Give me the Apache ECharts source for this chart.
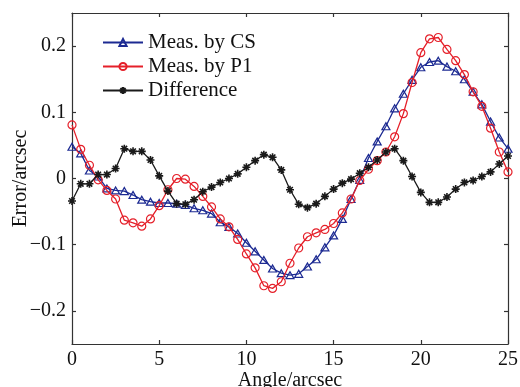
<!DOCTYPE html>
<html>
<head>
<meta charset="utf-8">
<script src="https://cdn.jsdelivr.net/npm/echarts@6/dist/echarts.min.js"></script>
<style>
  html, body { margin: 0; padding: 0; background: #fff; }
  #chart { width: 520px; height: 387px; }
</style>
</head>
<body>
<div id="chart"></div>
<script>
// Angle positions (arcsec)
const angles = [
  0, 0.5, 1, 1.5, 2, 2.5, 3, 3.5, 4, 4.5,
  5, 5.5, 6, 6.5, 7, 7.5, 8, 8.5, 9, 9.5,
  10, 10.5, 11, 11.5, 12, 12.5, 13, 13.5, 14, 14.5,
  15, 15.5, 16, 16.5, 17, 17.5, 18, 18.5, 19, 19.5,
  20, 20.5, 21, 21.5, 22, 22.5, 23, 23.5, 24, 24.5, 25
];

// Error measured by CS (arcsec)
const measCS = [
  0.048, 0.038, 0.012, 0.003, -0.015, -0.018, -0.019, -0.025, -0.032, -0.035,
  -0.037, -0.037, -0.038, -0.040, -0.045, -0.048, -0.053, -0.066, -0.073, -0.083,
  -0.097, -0.110, -0.123, -0.136, -0.143, -0.146, -0.144, -0.133, -0.122, -0.104,
  -0.086, -0.061, -0.031, -0.002, 0.031, 0.056, 0.079, 0.106, 0.128, 0.149,
  0.168, 0.176, 0.178, 0.169, 0.162, 0.150, 0.131, 0.112, 0.086, 0.062, 0.045
];

// Error measured by P1 (arcsec)
const measP1 = [
  0.081, 0.044, 0.020, -0.002, -0.018, -0.031, -0.063, -0.067, -0.072, -0.061,
  -0.041, -0.017, 0.000, -0.001, -0.012, -0.027, -0.043, -0.061, -0.073, -0.092,
  -0.114, -0.135, -0.162, -0.166, -0.156, -0.128, -0.105, -0.088, -0.082, -0.077,
  -0.068, -0.052, -0.031, -0.003, 0.014, 0.027, 0.040, 0.063, 0.098, 0.145,
  0.190, 0.211, 0.213, 0.195, 0.178, 0.157, 0.131, 0.109, 0.076, 0.040, 0.010
];

// Difference between the two measurements (arcsec)
const difference = [
  -0.034, -0.008, -0.008, 0.006, 0.006, 0.015, 0.045, 0.041, 0.041, 0.028,
  0.004, -0.019, -0.038, -0.039, -0.032, -0.020, -0.013, -0.006, 0.000, 0.007,
  0.017, 0.027, 0.036, 0.032, 0.013, -0.017, -0.039, -0.044, -0.038, -0.027,
  -0.016, -0.007, -0.001, 0.008, 0.017, 0.028, 0.040, 0.045, 0.027, 0.003,
  -0.021, -0.036, -0.036, -0.028, -0.016, -0.006, -0.003, 0.003, 0.010, 0.022, 0.034
];

const xTicks = [0, 5, 10, 15, 20, 25];
const yTicks = [-0.2, -0.1, 0, 0.1, 0.2];

const seriesNames = ['Meas. by CS', 'Meas. by P1', 'Difference'];

const FONT = '"Liberation Serif", "Times New Roman", serif';
const AXIS_COLOR = '#333';
const BLUE = '#1c2a92';
const RED = '#e5202a';
const BLACK = '#1a1a1a';

// eight-armed asterisk marker, drawn as strokes
const asterisk = 'path://M0,-10L0,10M-10,0L10,0M-7,-7L7,7M-7,7L7,-7';

function pairs(ys) {
  return angles.map((a, i) => [a, ys[i]]);
}

function yLabel(v) {
  if (Math.abs(v) < 1e-9) return '0';
  return (v < 0 ? '\u2212' : '') + Math.abs(v).toFixed(1);
}

const axisLine = { show: true, onZero: false, lineStyle: { color: AXIS_COLOR, width: 1.2 } };
const tickStyle = { show: true, inside: true, length: 4, lineStyle: { color: AXIS_COLOR, width: 1.2 } };

const chart = echarts.init(document.getElementById('chart'), null, { renderer: 'canvas' });

chart.setOption({
  animation: false,
  backgroundColor: '#fff',
  grid: { left: 72, right: 12, top: 13, bottom: 43, containLabel: false, outerBoundsMode: 'none' },
  legend: {
    data: seriesNames,
    orient: 'vertical',
    left: 97,
    top: 27,
    itemWidth: 40,
    itemHeight: 9,
    itemGap: 3,
    textStyle: { fontFamily: FONT, fontSize: 21, lineHeight: 20, color: '#111' },
    selectedMode: false
  },
  xAxis: [
    {
      type: 'value', min: 0, max: 25, interval: 5, position: 'bottom',
      axisLine: axisLine,
      axisTick: tickStyle,
      splitLine: { show: false },
      axisLabel: { fontFamily: FONT, fontSize: 20, color: '#111', margin: 6 },
      name: 'Angle/arcsec', nameLocation: 'middle', nameGap: 27, nameMoveOverlap: false,
      nameTextStyle: { fontFamily: FONT, fontSize: 20, color: '#111' }
    },
    {
      type: 'value', min: 0, max: 25, interval: 5, position: 'top',
      axisLine: axisLine,
      axisTick: tickStyle,
      splitLine: { show: false },
      axisLabel: { show: false }
    }
  ],
  yAxis: [
    {
      type: 'value', min: -0.25, max: 0.25, position: 'left',
      axisLine: axisLine,
      axisTick: Object.assign({}, tickStyle, { customValues: yTicks }),
      splitLine: { show: false },
      axisLabel: { fontFamily: FONT, fontSize: 20, color: '#111', margin: 6, customValues: yTicks, formatter: yLabel },
      name: 'Error/arcsec', nameLocation: 'middle', nameGap: 41, nameRotate: 90, nameMoveOverlap: false,
      nameTextStyle: { fontFamily: FONT, fontSize: 20, color: '#111' }
    },
    {
      type: 'value', min: -0.25, max: 0.25, position: 'right',
      axisLine: axisLine,
      axisTick: Object.assign({}, tickStyle, { customValues: yTicks }),
      splitLine: { show: false },
      axisLabel: { show: false, customValues: yTicks }
    }
  ],
  series: [
    {
      name: seriesNames[0], type: 'line', data: pairs(measCS),
      symbol: 'triangle', symbolSize: [8, 7],
      lineStyle: { color: BLUE, width: 1.3 },
      itemStyle: { color: 'none', borderColor: BLUE, borderWidth: 1.2 },
      z: 2
    },
    {
      name: seriesNames[1], type: 'line', data: pairs(measP1),
      symbol: 'circle', symbolSize: 8,
      lineStyle: { color: RED, width: 1.3 },
      itemStyle: { color: 'none', borderColor: RED, borderWidth: 1.2 },
      z: 3
    },
    {
      name: seriesNames[2], type: 'line', data: pairs(difference),
      symbol: asterisk, symbolSize: 8,
      lineStyle: { color: BLACK, width: 1.3 },
      itemStyle: { color: BLACK, borderColor: BLACK, borderWidth: 1.6 },
      z: 4
    }
  ]
});
</script>
</body>
</html>
